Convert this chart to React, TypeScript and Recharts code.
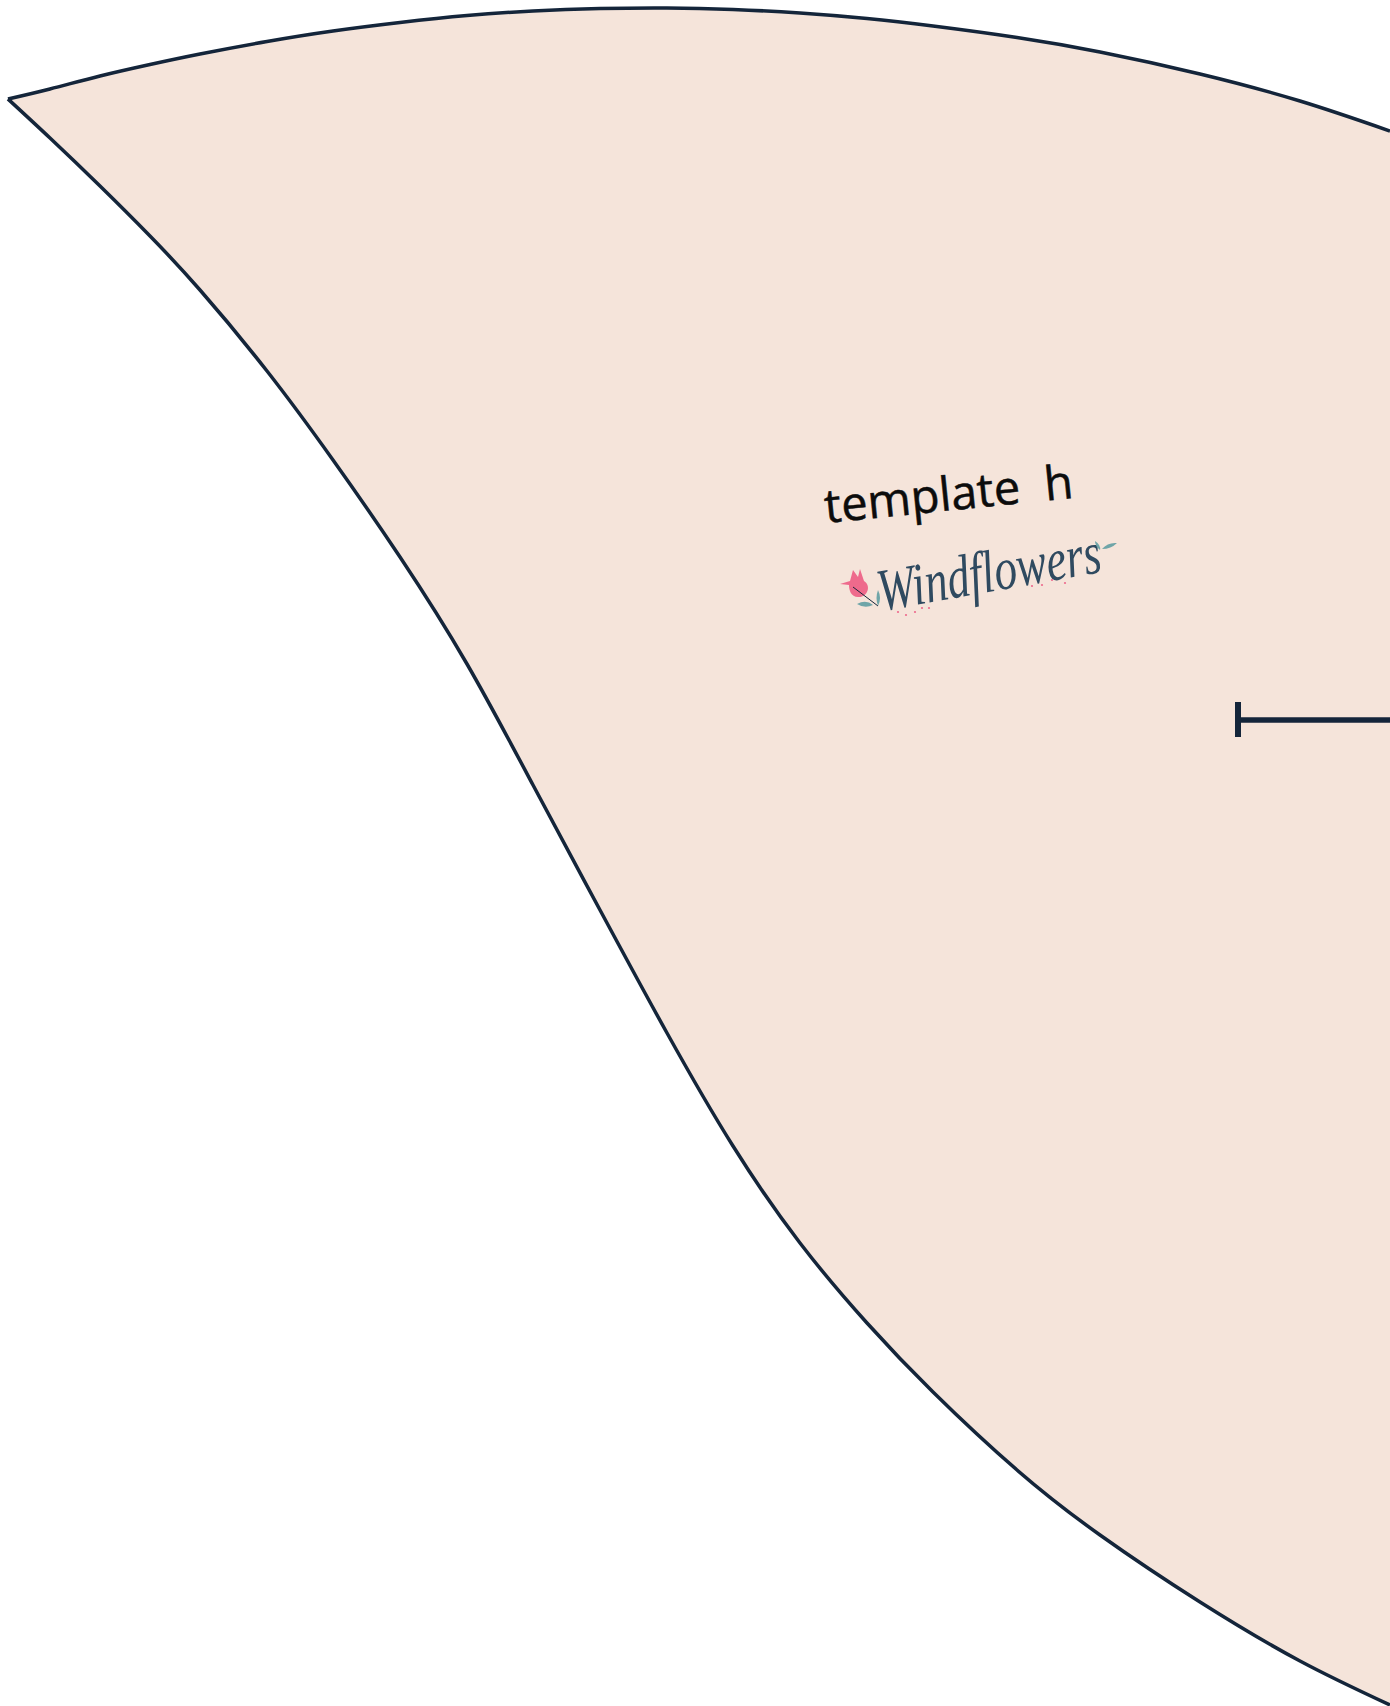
import React from 'react';
import { ComposedChart, Area, XAxis, YAxis, ReferenceLine, ReferenceDot } from 'recharts';

const WIDTH = 1390;
const HEIGHT = 1706;

// outline of the template (y runs downwards)
const xs = [8, 50, 100, 150, 200, 267, 333, 400, 467, 533, 600, 667, 733, 800, 867, 933, 1017, 1100, 1200, 1300, 1390];
const topEdge = [99, 89, 76, 64.5, 54, 41.5, 31, 22.5, 15.5, 11, 8.6, 8, 9.5, 13, 18.5, 26, 37.5, 52, 74, 101, 131];
const bottomEdge = [99, 138, 186, 236, 290, 371, 460, 557, 664, 785, 910, 1033, 1146, 1243, 1323, 1392, 1470, 1535, 1602, 1661, 1705];

const ruleX = [1238, 1390];
const ruleY = 720;
const ruleTick = [702, 737];

const pinkDots = [
  [898, 612], [906, 615], [915, 612], [922, 608], [929, 608],
  [1032, 586], [1042, 585], [1052, 580], [1065, 583],
];

const rows = xs.map((x, i) => ({ x, edge: [topEdge[i], bottomEdge[i]] }));

const INK = '#14253a';
const PAPER = '#f5e4da';

// the logo sits on a reference dot so that it is drawn above the area
const Logo = () => (
  <g>
    <text
      x={826}
      y={523}
      transform="rotate(-5.8 826 523)"
      fontFamily="'Open Sans', sans-serif"
      fontSize={47}
      fill="#0c0c0c"
      stroke="#0c0c0c"
      strokeWidth={0.5}
      style={{ whiteSpace: 'pre' }}
    >
      template  h
    </text>
    <text
      x={881}
      y={611}
      transform="rotate(-10 881 611)"
      fontFamily="'Liberation Serif', serif"
      fontStyle="italic"
      fontSize={60}
      fill="#2f4a60"
      textLength={226}
      lengthAdjust="spacingAndGlyphs"
    >
      Windflowers
    </text>
    <path
      d="M840 584 L850 581 L853 570 L858 577 L860 569 L864 581 C872 586 867 598 858 597 C851 597 849 590 849 585 Z"
      fill="#ee6a8c"
    />
    <path d="M853 587 L878 606" stroke={INK} strokeWidth={1} fill="none" />
    <path d="M857 604 Q866 599 873 605 Q865 609 857 604 Z" fill="#6fa5a8" />
    <path d="M878 590 Q882 598 878 606 Q875 598 878 590 Z" fill="#6fa5a8" />
    <path d="M1095 541 Q1101 545 1100 550 Q1095 546 1095 541 Z" fill="#6fa5a8" />
    <path d="M1102 549 Q1108 542 1117 543 Q1111 549 1102 549 Z" fill="#6fa5a8" />
    {pinkDots.map(([cx, cy]) => (
      <circle key={`${cx}-${cy}`} cx={cx} cy={cy} r={1.1} fill="#ee6a8c" />
    ))}
  </g>
);

export default function App() {
  return (
    <div style={{ position: 'absolute', left: 0, top: 0, width: WIDTH, height: HEIGHT, background: '#fff' }}>
      <ComposedChart width={WIDTH} height={HEIGHT} data={rows} margin={{ top: 0, right: 0, bottom: 0, left: 0 }}>
        <XAxis dataKey="x" type="number" domain={[0, WIDTH]} hide />
        <YAxis type="number" domain={[0, HEIGHT]} reversed hide />
        <Area
          dataKey="edge"
          type="natural"
          fill={PAPER}
          fillOpacity={1}
          stroke={INK}
          strokeWidth={3.5}
          dot={false}
          activeDot={false}
          isAnimationActive={false}
        />
        <ReferenceLine
          segment={[{ x: ruleX[0], y: ruleY }, { x: ruleX[1], y: ruleY }]}
          stroke={INK}
          strokeWidth={5.5}
        />
        <ReferenceLine
          segment={[{ x: ruleX[0], y: ruleTick[0] }, { x: ruleX[0], y: ruleTick[1] }]}
          stroke={INK}
          strokeWidth={6}
        />
        <ReferenceDot x={900} y={560} r={1} shape={() => <Logo />} />
      </ComposedChart>
    </div>
  );
}
